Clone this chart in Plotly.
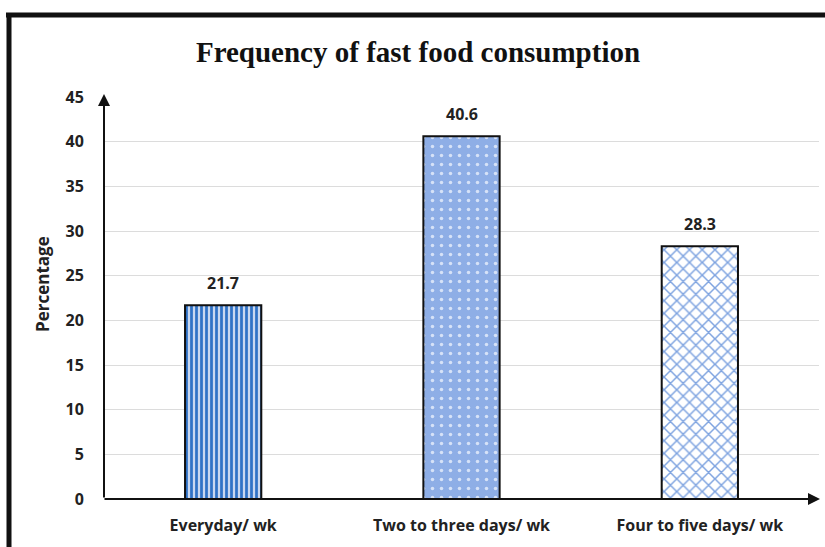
import plotly.graph_objects as go

categories = ["Everyday/ wk", "Two to three days/ wk", "Four to five days/ wk"]
percentages = [21.7, 40.6, 28.3]
y_ticks = [0, 5, 10, 15, 20, 25, 30, 35, 40, 45]

W, H = 825, 547
ML, MR, MT, MB = 104, 6, 97, 48
PW, PH = W - ML - MR, H - MT - MB

SANS = "Open Sans, sans-serif"
INK = "#222222"

patterns = [
    dict(shape="|", fgcolor="#2f72c6", bgcolor="#c9d8f0", size=5, solidity=0.55, fillmode="replace"),
    dict(shape=".", fgcolor="#d6e2f7", bgcolor="#8eaee6", size=9, solidity=0.12, fillmode="replace"),
    dict(shape="x", fgcolor="#7ea3e0", bgcolor="#ffffff", size=9, solidity=0.3, fillmode="replace"),
]

fig = go.Figure()
for i, (cat, val) in enumerate(zip(categories, percentages)):
    fig.add_trace(go.Bar(
        x=[i], y=[val], width=0.32,
        marker=dict(color=patterns[i]["bgcolor"], pattern=patterns[i],
                    line=dict(color="#111111", width=2)),
        showlegend=False, hoverinfo="skip",
    ))
    fig.add_annotation(x=i, y=val, text=f"{val}", showarrow=False, yshift=22,
                       font=dict(family=SANS, size=16, color=INK, weight="bold"))

def px_x(p):
    return (p - ML) / PW

def px_y(p):
    return (H - MB - p) / PH

# outer frame (top and left edges)
fig.add_shape(type="line", xref="paper", yref="paper", x0=px_x(6), x1=px_x(830),
              y0=px_y(15), y1=px_y(15), line=dict(color="#111111", width=5))
fig.add_shape(type="line", xref="paper", yref="paper", x0=px_x(9), x1=px_x(9),
              y0=px_y(13), y1=px_y(560), line=dict(color="#111111", width=5))

# axis arrows
fig.add_annotation(xref="paper", yref="paper", x=0, y=px_y(94), ax=0, ay=PH + 3,
                   text="", showarrow=True,
                   arrowhead=2, arrowsize=1.2, arrowwidth=2, arrowcolor="#111111")
fig.add_annotation(xref="paper", yref="paper", x=px_x(820), y=0, ax=-(PW + 2), ay=0,
                   text="", showarrow=True,
                   arrowhead=2, arrowsize=1.2, arrowwidth=2, arrowcolor="#111111")

# y-axis title
fig.add_annotation(xref="paper", yref="paper", x=px_x(42), y=px_y(284),
                   text="Percentage", textangle=-90, showarrow=False,
                   xanchor="center", yanchor="middle",
                   font=dict(family=SANS, size=17, color=INK, weight="bold"))

fig.update_layout(
    width=W, height=H,
    margin=dict(l=ML, r=MR, t=MT, b=MB, pad=0),
    paper_bgcolor="white", plot_bgcolor="white",
    title=dict(text="<b>Frequency of fast food consumption</b>", x=418 / W, xref="container",
               xanchor="center", y=1 - 52 / H, yanchor="middle",
               font=dict(family="Liberation Serif, Times New Roman, serif", size=29, color="#111111")),
    xaxis=dict(range=[-0.5, 2.5], tickmode="array", tickvals=[0, 1, 2], ticktext=categories,
               showgrid=False, zeroline=False, showline=False, ticks="outside", ticklen=12,
               tickcolor="rgba(0,0,0,0)",
               tickfont=dict(family=SANS, size=16, color=INK, weight="bold")),
    yaxis=dict(range=[0, 45], tickmode="array", tickvals=y_ticks,
               showgrid=True, gridcolor="#dcdcdc", gridwidth=1, zeroline=False, showline=False,
               ticks="outside", ticklen=16, tickcolor="rgba(0,0,0,0)",
               tickfont=dict(family=SANS, size=16, color=INK, weight="bold")),
    bargap=0.5,
)

fig.write_html("out.html")
